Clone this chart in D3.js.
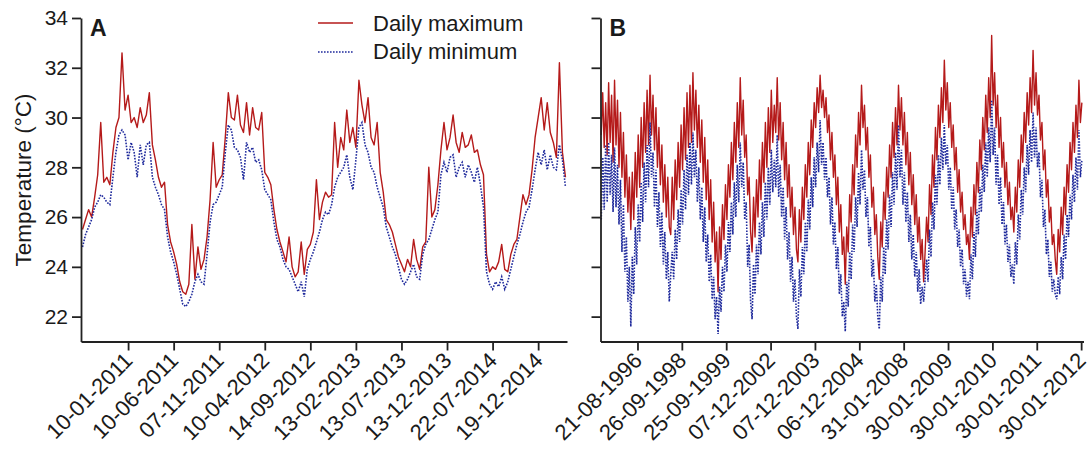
<!DOCTYPE html>
<html>
<head>
<meta charset="utf-8">
<script src="https://d3js.org/d3.v7.min.js"></script>
<style>
  body { margin: 0; background: #fff; }
  svg text { font-family: Arial, "Liberation Sans", sans-serif; fill: #1a1a1a; }
</style>
</head>
<body>
<div id="chart"></div>
<script>

// tick labels (dates), one per tick along each x axis
var ticksA = ["10-01-2011","10-06-2011","07-11-2011","10-04-2012","14-09-2012",
              "13-02-2013","13-07-2013","13-12-2013","22-07-2014","19-12-2014"];
var ticksB = ["21-08-1996","26-09-1998","25-09-1999","07-12-2002","07-12-2003",
              "06-12-2004","31-01-2008","30-01-2009","30-01-2010","30-01-2011","30-01-2012"];
var yTicks = [22, 24, 26, 28, 30, 32, 34];

// panel A, sampled every 10 records
var maxA = [25.5,25.9,26.3,26.0,26.8,27.7,29.8,27.4,27.6,27.3,
  28.6,29.6,30.0,32.6,30.3,30.9,29.8,30.0,29.6,30.4,
  29.8,30.1,31.0,28.9,28.3,27.6,27.2,27.4,25.7,25.0,
  24.6,24.1,23.4,23.0,22.9,23.3,25.7,23.5,24.8,23.9,
  24.3,25.2,26.7,29.0,27.2,27.5,27.7,29.2,31.0,30.0,
  29.9,30.9,29.7,29.4,30.6,29.3,30.4,29.6,29.5,30.2,
  27.8,27.6,27.3,26.3,25.5,25.0,24.6,24.2,25.2,24.0,
  23.6,23.8,25.0,23.7,24.7,24.9,25.4,27.5,25.9,26.6,
  27.0,26.8,26.9,29.8,28.0,29.2,28.7,30.3,29.0,29.6,
  28.8,31.5,30.5,29.8,30.8,29.2,28.9,29.8,27.8,27.0,
  25.9,25.7,25.4,24.9,24.4,24.1,23.8,24.3,24.0,25.1,
  24.3,23.9,24.8,25.0,28.0,26.0,26.3,27.3,28.7,29.8,
  28.7,29.2,30.1,29.0,28.6,29.4,28.8,28.9,29.3,28.6,
  28.7,28.1,27.7,24.5,23.8,24.0,23.9,24.2,24.9,23.9,
  23.8,24.5,24.9,25.1,26.0,26.9,26.5,26.9,27.9,29.2,
  30.0,30.8,29.5,30.6,29.4,29.0,28.4,32.2,28.6,27.6];
var minA = [24.8,25.3,25.6,25.9,26.4,26.6,26.9,26.8,26.6,26.5,
  27.6,28.6,29.3,29.5,29.3,28.3,29.0,28.6,27.6,28.9,
  28.1,28.9,29.0,27.6,27.2,26.9,26.5,26.3,25.2,24.6,
  24.2,23.7,23.1,22.5,22.4,22.6,22.9,23.4,23.7,23.4,
  23.3,24.5,25.8,26.5,26.6,26.9,27.2,28.6,29.7,29.5,
  28.8,28.7,28.4,27.5,29.0,28.6,28.8,28.2,28.3,27.9,
  27.1,26.9,26.7,25.8,25.1,24.8,24.3,24.0,23.9,23.6,
  23.3,23.0,23.4,22.8,23.9,24.3,24.6,25.0,25.4,25.9,
  26.2,26.1,26.5,27.2,27.6,27.8,28.0,28.5,27.6,27.1,
  28.3,29.6,29.8,28.9,28.6,28.0,27.8,27.2,26.8,26.4,
  25.6,25.2,24.8,24.5,24.0,23.5,23.3,23.5,23.8,24.1,
  23.6,23.5,24.5,24.9,25.1,25.5,25.9,26.2,27.7,28.2,
  27.8,28.4,28.5,27.6,28.0,28.2,27.6,28.1,27.8,27.4,
  28.0,27.3,26.4,23.8,23.3,23.1,23.4,23.2,23.6,23.1,
  23.4,23.9,24.4,24.9,25.3,25.8,26.2,26.4,27.1,27.9,
  28.6,28.1,28.7,27.9,28.5,28.0,27.9,28.9,28.3,27.2];

// panel B, sampled every 5 records
var maxB = [29.3,31.0,28.8,30.6,28.5,31.4,29.0,30.9,28.2,31.5,28.9,30.7,28.0,30.2,
  27.6,29.4,26.8,28.5,26.2,27.6,25.5,
  27.8,25.9,28.6,26.8,29.3,27.2,30.0,28.0,30.6,28.6,31.1,28.9,31.7,29.3,30.9,
  28.7,30.4,28.0,29.6,27.3,28.9,26.6,28.1,26.0,27.6,25.6,25.3,
  27.6,25.9,28.3,26.7,29.0,27.2,29.7,27.9,30.4,28.3,31.0,28.8,31.3,29.0,31.8,29.5,31.1,
  28.8,30.5,28.2,29.9,27.4,29.2,26.7,28.3,25.9,27.5,25.0,26.6,24.2,25.4,23.0,
  25.6,24.3,26.5,25.1,27.3,25.9,28.1,26.8,29.0,27.5,29.8,28.2,30.6,28.8,31.6,29.3,30.7,
  28.4,29.3,26.9,27.6,25.4,24.6,
  26.8,25.2,27.5,26.0,28.3,26.7,29.0,27.4,29.8,28.0,30.4,28.6,31.1,29.0,30.5,29.4,31.6,
  29.1,30.6,28.3,29.8,27.5,29.0,26.8,28.1,26.0,27.2,25.3,26.4,24.7,24.2,
  26.3,25.0,27.2,25.9,28.1,26.8,29.0,27.7,29.9,28.8,30.6,29.6,31.2,30.2,31.7,30.4,31.1,
  30.0,30.8,29.4,30.1,28.3,29.4,27.6,28.5,26.5,27.6,25.4,26.5,24.5,25.2,23.3,
  25.6,24.6,26.9,25.8,28.1,26.9,29.3,28.0,30.2,28.9,31.3,29.6,
  30.5,28.7,29.6,27.6,28.5,26.4,27.2,25.3,26.1,24.4,23.5,
  25.8,24.8,27.0,25.9,28.0,26.8,28.9,27.6,29.8,28.4,30.4,28.9,31.3,29.5,30.8,
  28.9,30.2,28.1,29.4,27.3,28.6,26.5,27.7,25.7,26.9,25.0,26.0,24.3,25.1,23.4,24.6,
  26.0,25.0,27.3,26.1,28.5,27.2,29.6,28.3,30.5,29.2,31.2,29.8,32.3,30.3,
  31.4,29.6,30.6,28.8,29.7,27.9,28.8,27.0,27.9,26.2,27.0,25.5,26.1,24.9,25.3,24.3,
  26.4,25.2,27.3,26.1,28.2,27.0,29.1,27.9,30.0,28.7,30.9,29.4,31.6,30.0,33.3,30.5,31.8,
  29.6,30.9,28.8,30.0,28.0,29.0,27.2,28.2,26.5,27.4,25.9,26.4,25.4,
  27.2,26.2,28.3,27.2,29.3,28.2,30.2,29.0,31.0,29.7,31.6,30.2,32.7,30.5,31.8,30.1,
  30.9,29.1,29.8,27.9,28.7,26.8,27.5,25.8,26.4,24.9,25.3,24.3,23.7,
  25.5,24.6,26.4,25.3,27.2,26.1,28.1,27.0,29.0,27.9,29.8,28.6,30.5,29.2,31.5,29.8,30.6];
var minB = [25.9,28.4,26.3,28.9,26.6,29.0,26.9,28.5,26.2,28.8,26.4,28.1,25.7,27.5,
  24.6,26.5,23.8,25.2,22.6,24.0,21.6,
  24.4,22.9,25.6,24.1,26.5,25.0,27.4,25.8,28.2,26.6,28.9,27.2,29.8,27.6,28.6,
  26.4,27.9,25.6,27.0,24.8,26.2,24.1,25.4,23.5,24.6,22.6,23.7,
  24.6,23.5,25.5,24.3,26.3,25.0,27.1,25.7,27.9,26.3,28.5,26.9,29.0,27.3,29.4,27.6,28.7,
  26.6,28.0,25.9,27.2,25.0,26.4,24.2,25.3,23.4,24.5,22.7,23.6,21.9,22.8,21.3,
  23.2,22.2,24.0,23.0,24.9,23.8,25.8,24.6,26.6,25.3,27.4,26.0,28.1,26.6,29.0,27.2,28.2,
  25.9,26.6,24.0,24.9,22.6,21.9,
  24.1,22.9,24.9,23.7,25.8,24.5,26.6,25.2,27.4,25.9,28.0,26.5,28.7,27.0,28.3,27.2,29.3,
  26.8,28.1,26.0,27.2,25.1,26.4,24.3,25.4,23.4,24.4,22.6,23.5,22.0,21.5,
  23.9,22.8,24.8,23.7,25.8,24.6,26.7,25.5,27.6,26.4,28.4,27.2,29.0,27.8,29.9,28.1,29.0,
  27.5,28.4,26.8,27.6,25.7,26.8,24.9,25.8,23.9,24.8,22.9,23.7,22.0,22.6,21.4,
  23.4,22.4,24.6,23.5,25.7,24.6,26.8,25.6,27.8,26.5,28.7,27.1,
  27.9,26.0,26.8,24.8,25.6,23.6,24.3,22.6,23.3,22.0,21.5,
  23.6,22.6,24.8,23.7,25.9,24.7,26.9,25.6,27.8,26.5,28.6,27.1,29.7,27.6,28.7,
  26.5,27.8,25.8,27.0,25.0,26.1,24.3,25.3,23.6,24.6,23.0,23.9,22.5,23.2,22.6,23.5,
  24.3,23.4,25.5,24.4,26.6,25.5,27.7,26.5,28.5,27.3,29.2,27.9,29.7,28.1,
  28.9,27.1,28.0,26.3,27.2,25.5,26.3,24.8,25.5,24.0,24.7,23.3,23.9,22.8,23.4,22.7,
  24.5,23.5,25.4,24.4,26.3,25.3,27.2,26.2,28.1,27.0,29.0,27.6,29.6,28.2,30.7,28.5,29.6,
  27.3,28.5,26.5,27.6,25.7,26.6,24.9,25.7,24.2,24.9,23.6,24.1,23.3,
  25.0,24.1,26.1,25.1,27.1,26.1,28.0,27.0,28.9,27.7,29.5,28.2,30.2,28.4,29.6,28.0,
  28.6,26.8,27.5,25.6,26.3,24.5,25.1,23.6,24.2,23.0,23.5,22.9,22.7,
  23.6,22.9,24.4,23.5,25.3,24.3,26.1,25.2,26.9,25.9,27.7,26.6,28.4,27.1,29.5,27.6,28.3];

var W = 1090, H = 451;
var svg = d3.select("#chart").append("svg")
  .attr("width", W)
  .attr("height", H);

var y = d3.scaleLinear().domain([21, 34]).range([341.5, 18]);

function panel(opt) {
  var x = d3.scaleLinear().domain([0, opt.len]).range([opt.left, opt.right]);
  var tickPos = opt.labels.map(function(d, i) { return opt.first + 150 * i; });

  var line = d3.line()
    .x(function(d, i) { return x(opt.step / 2 + opt.step * i); })
    .y(function(d) { return y(d); });

  var g = svg.append("g");

  g.append("path")
    .datum(opt.max)
    .attr("d", line)
    .attr("fill", "none")
    .attr("stroke", "#b51a1a")
    .attr("stroke-width", 1.4)
    .attr("stroke-linejoin", "round");

  g.append("path")
    .datum(opt.min)
    .attr("d", line)
    .attr("fill", "none")
    .attr("stroke", "#1f2a9c")
    .attr("stroke-width", 1.6)
    .attr("stroke-dasharray", "1.6,1.4");

  var ya = g.append("g")
    .attr("transform", "translate(" + opt.left + ",0)")
    .call(d3.axisLeft(y).tickValues(yTicks).tickSize(9).tickSizeOuter(0).tickPadding(4)
      .tickFormat(opt.yLabels ? d3.format("d") : ""));

  var xa = g.append("g")
    .attr("transform", "translate(0," + y.range()[0] + ")")
    .call(d3.axisBottom(x).tickValues(tickPos).tickSize(9).tickSizeOuter(0)
      .tickFormat(function(d, i) { return opt.labels[i]; }));

  [ya, xa].forEach(function(a) {
    a.select(".domain").attr("stroke", "#222").attr("stroke-width", 1.8);
    a.selectAll(".tick line").attr("stroke", "#222").attr("stroke-width", 1.8);
    a.selectAll("text").attr("font-size", 21).attr("fill", "#1a1a1a");
  });

  xa.selectAll("text")
    .attr("font-size", 22)
    .attr("x", 0).attr("y", 0).attr("dy", "0.35em")
    .attr("transform", "translate(0,15) rotate(-45)")
    .style("text-anchor", "end");

  g.append("text")
    .attr("x", opt.left + 9)
    .attr("y", 36)
    .attr("font-size", 23)
    .attr("font-weight", "bold")
    .text(opt.name);
}

panel({ name: "A", max: maxA, min: minA, labels: ticksA, len: 1600, first: 155, step: 10,
        left: 81, right: 567, yLabels: true });
panel({ name: "B", max: maxB, min: minB, labels: ticksB, len: 1633, first: 125, step: 5,
        left: 600.5, right: 1083.5, yLabels: false });

svg.append("text")
  .attr("transform", "translate(31,180) rotate(-90)")
  .attr("text-anchor", "middle")
  .attr("font-size", 22.5)
  .text("Temperature (\u00B0C)");

// legend
var leg = svg.append("g");
leg.append("line").attr("x1", 318).attr("x2", 353).attr("y1", 23).attr("y2", 23)
  .attr("stroke", "#b51a1a").attr("stroke-width", 1.4);
leg.append("line").attr("x1", 318).attr("x2", 353).attr("y1", 52).attr("y2", 52)
  .attr("stroke", "#1f2a9c").attr("stroke-width", 1.6).attr("stroke-dasharray", "1.6,1.4");
leg.append("text").attr("x", 373).attr("y", 30.5).attr("font-size", 22).text("Daily maximum");
leg.append("text").attr("x", 373).attr("y", 59).attr("font-size", 22).text("Daily minimum");

</script>
</body>
</html>
